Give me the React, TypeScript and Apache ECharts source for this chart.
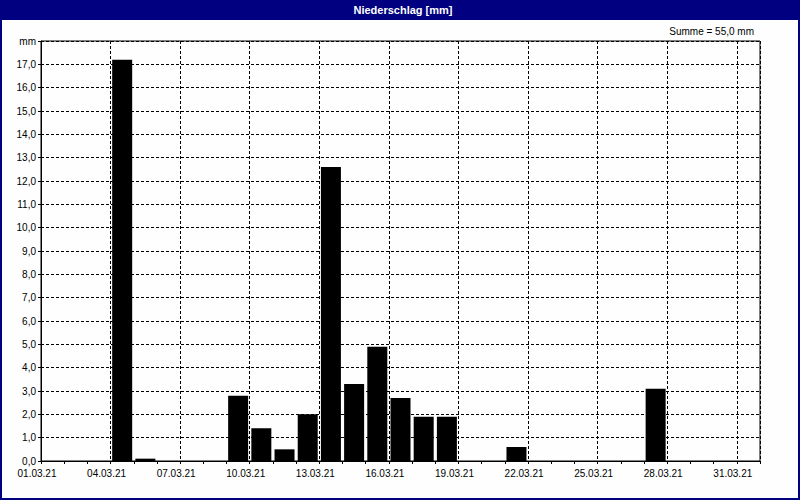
import React, { useEffect, useRef } from "react";
import * as echarts from "echarts";

const dayLabels: string[] = [
  "01.03.21", "02.03.21", "03.03.21", "04.03.21", "05.03.21", "06.03.21", "07.03.21",
  "08.03.21", "09.03.21", "10.03.21", "11.03.21", "12.03.21", "13.03.21", "14.03.21",
  "15.03.21", "16.03.21", "17.03.21", "18.03.21", "19.03.21", "20.03.21", "21.03.21",
  "22.03.21", "23.03.21", "24.03.21", "25.03.21", "26.03.21", "27.03.21", "28.03.21",
  "29.03.21", "30.03.21", "31.03.21",
];

const precipitation: number[] = [
  0, 0, 0, 17.2, 0.1, 0, 0, 0, 2.8, 1.4, 0.5, 2.0, 12.6, 3.3, 4.9, 2.7,
  1.9, 1.9, 0, 0, 0.6, 0, 0, 0, 0, 0, 3.1, 0, 0, 0, 0,
];

const titleText = "Niederschlag [mm]";
const unitLabel = "mm";
const yMax = 18;
const totalText = "Summe = 55,0 mm";

const FONT = "'Liberation Sans', Arial, sans-serif";

export default function App() {
  const ref = useRef<HTMLDivElement>(null);
  useEffect(() => {
    document.body.style.margin = "0";
    if (!ref.current) return;
    const chart = echarts.init(ref.current, undefined, { renderer: "svg" });
    const dashed = { color: "#000", width: 1, type: [3, 2] as any };
    chart.setOption({
      animation: false,
      backgroundColor: "#fdfefd",
      textStyle: { fontFamily: FONT },
      grid: {
        left: 41,
        right: 40,
        top: 41,
        bottom: 39,
        show: true,
        borderColor: "#000",
        borderWidth: 1,
        backgroundColor: "transparent",
      },
      xAxis: [
        {
          type: "category",
          data: dayLabels,
          boundaryGap: true,
          axisLine: { show: true, lineStyle: { color: "#000", width: 1 } },
          axisTick: { show: true, interval: 0, length: 3, lineStyle: { color: "#000" } },
          axisLabel: { show: false },
          splitLine: { show: false },
        },
        {
          type: "value",
          position: "bottom",
          min: 0,
          max: dayLabels.length,
          interval: 3,
          axisLine: { show: false },
          axisTick: { show: false },
          axisLabel: {
            show: true,
            color: "#000",
            fontSize: 10,
            fontFamily: FONT,
            margin: 7,
            padding: [0, 8, 0, 0],
            showMaxLabel: false,
            formatter: (v: number) => dayLabels[v] ?? "",
          },
          splitLine: { show: true, lineStyle: dashed },
        },
      ],
      yAxis: {
        type: "value",
        min: 0,
        max: yMax,
        interval: 1,
        axisLine: { show: true, lineStyle: { color: "#000" } },
        axisTick: { show: true, length: 3, lineStyle: { color: "#000" } },
        axisLabel: {
          color: "#000",
          fontSize: 10,
          fontFamily: FONT,
          margin: 5,
          formatter: (v: number) =>
            v === yMax ? unitLabel : v.toFixed(1).replace(".", ","),
        },
        splitLine: { show: true, lineStyle: dashed },
      },
      series: [
        {
          type: "bar",
          xAxisIndex: 0,
          data: precipitation,
          barWidth: 20,
          itemStyle: { color: "#000" },
          z: 3,
        },
      ],
      graphic: [
        {
          type: "rect",
          shape: { x: 0, y: 0, width: 800, height: 20 },
          style: { fill: "#000080" },
          z: 10,
        },
        {
          type: "text",
          x: 403,
          y: 10,
          style: {
            text: titleText,
            fill: "#fff",
            font: `bold 11px ${FONT}`,
            align: "center",
            verticalAlign: "middle",
          },
          z: 11,
        },
        {
          type: "text",
          x: 754,
          y: 31,
          style: {
            text: totalText,
            fill: "#000",
            font: `10px ${FONT}`,
            align: "right",
            verticalAlign: "middle",
          },
          z: 11,
        },
        {
          type: "rect",
          shape: { x: 1, y: 1, width: 798, height: 498 },
          style: { fill: "none", stroke: "#000080", lineWidth: 2 },
          z: 12,
        },
      ],
    });
    return () => chart.dispose();
  }, []);
  return (
    <div
      ref={ref}
      style={{ position: "absolute", left: 0, top: 0, width: 800, height: 500 }}
    />
  );
}
